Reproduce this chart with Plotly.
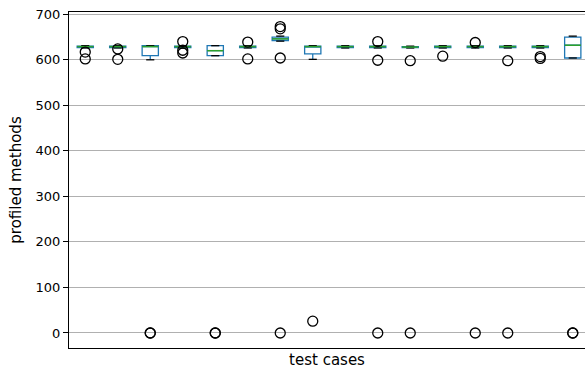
import plotly.graph_objects as go

# ---- data ----
positions = list(range(1, 17))
q1 = [627, 627, 609, 627, 609, 627, 642, 613, 627, 627, 627, 627, 627, 627, 627, 604]
median = [629, 629, 629, 629, 620, 629, 646, 629, 629, 629, 628, 629, 629, 629, 629, 632]
q3 = [630, 630, 631, 630, 631, 630, 650, 630, 630, 630, 629, 630, 630, 630, 630, 650]
lower_whisker = [626, 626, 600, 626, 609, 626, 641, 601, 626, 626, 626, 626, 626, 626, 626, 604]
upper_whisker = [631, 631, 631, 631, 631, 631, 652, 631, 631, 631, 630, 631, 631, 631, 631, 652]
outliers = [
    [617, 602],
    [624, 601],
    [0, 0],
    [640, 621, 615],
    [0, 0],
    [639, 602],
    [673, 668, 604, 0],
    [26],
    [],
    [640, 599, 0],
    [598, 0],
    [608],
    [638, 0],
    [598, 0],
    [607, 603],
    [0, 0],
]
y_ticks = [0, 100, 200, 300, 400, 500, 600, 700]

BOX_W = 0.5
CAP_W = 0.25
BLUE = "#1f77b4"
GREEN = "#2ca02c"
FONT = "DejaVu Sans"

fig = go.Figure()

# boxes + whiskers
fig.add_trace(go.Box(
    x=positions, q1=q1, median=median, q3=q3,
    lowerfence=lower_whisker, upperfence=upper_whisker,
    width=BOX_W, whiskerwidth=0,
    fillcolor="rgba(0,0,0,0)",
    line=dict(color=BLUE, width=1.3),
    boxpoints=False, hoverinfo="skip", showlegend=False,
))

# caps (black)
cx, cy = [], []
for p, lo, hi in zip(positions, lower_whisker, upper_whisker):
    for v in (lo, hi):
        cx += [p - CAP_W / 2, p + CAP_W / 2, None]
        cy += [v, v, None]
fig.add_trace(go.Scatter(x=cx, y=cy, mode="lines",
                         line=dict(color="black", width=1.3),
                         hoverinfo="skip", showlegend=False))

# medians (green)
mx, my = [], []
for p, m in zip(positions, median):
    mx += [p - BOX_W / 2, p + BOX_W / 2, None]
    my += [m, m, None]
fig.add_trace(go.Scatter(x=mx, y=my, mode="lines",
                         line=dict(color=GREEN, width=1.5),
                         hoverinfo="skip", showlegend=False))

# fliers
fx, fy = [], []
for p, vals in zip(positions, outliers):
    for v in vals:
        fx.append(p)
        fy.append(v)
fig.add_trace(go.Scatter(x=fx, y=fy, mode="markers",
                         marker=dict(symbol="circle-open", size=10, color="black",
                                     line=dict(width=1.3, color="black")),
                         hoverinfo="skip", showlegend=False))

fig.update_layout(
    width=585, height=369,
    margin=dict(l=69, r=0, t=12, b=21),
    plot_bgcolor="white", paper_bgcolor="white",
    font=dict(family=FONT, size=13, color="black"),
    showlegend=False,
)
fig.update_xaxes(
    range=[0.5, 0.5 + 516 / 32.5],
    showticklabels=False, ticks="", showgrid=False, zeroline=False,
    showline=True, linecolor="black", linewidth=1.1, mirror=True,
    title=dict(text="test cases", standoff=7, font=dict(size=15)),
)
fig.update_yaxes(
    range=[-33, 705],
    tickvals=y_ticks, ticks="outside", ticklen=5, tickwidth=1.1, tickcolor="black",
    tickfont=dict(size=13),
    showgrid=True, gridcolor="#b0b0b0", gridwidth=1, zeroline=False,
    showline=True, linecolor="black", linewidth=1.1, mirror=False,
    title=dict(text="profiled methods", standoff=10, font=dict(size=15)),
)

fig.write_html(
    "out.html",
    config={"displayModeBar": False},
    post_script="document.body.style.margin='0';document.body.style.overflow='hidden';",
)
